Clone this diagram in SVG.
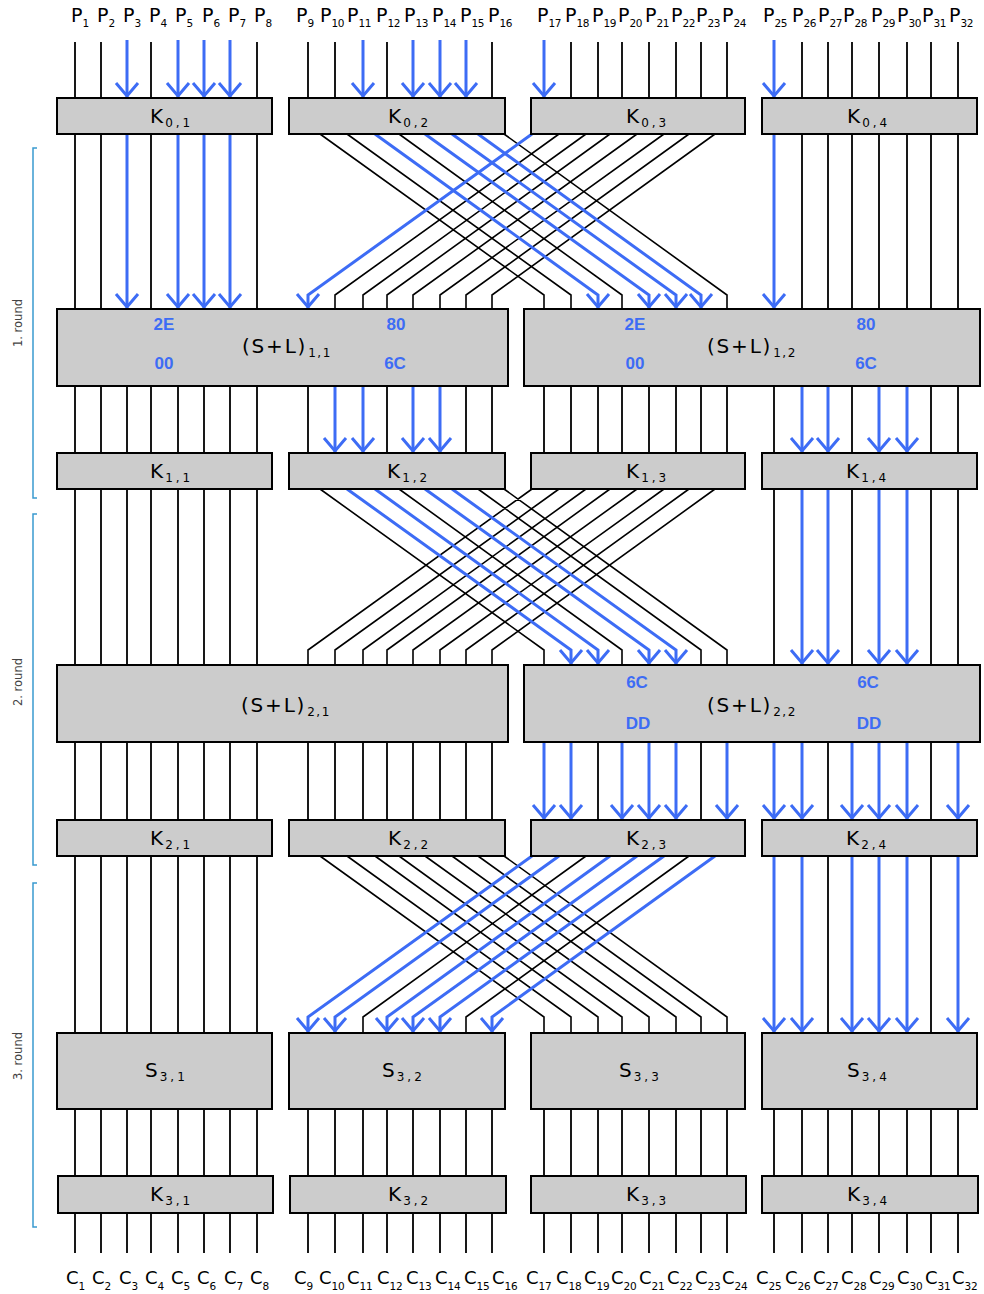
<svg xmlns="http://www.w3.org/2000/svg" width="984" height="1294" viewBox="0 0 984 1294">
<style>
.w{stroke:#000;stroke-width:1.8;fill:none}
.d{stroke:#000;stroke-width:1.6;fill:none}
.b{stroke:#3d6cf5;stroke-width:3;fill:none;marker-end:url(#ah)}
.box{fill:#cccccc;stroke:#000;stroke-width:2}
.t{font-family:'DejaVu Sans',sans-serif;font-size:20px;fill:#000}
.p{font-family:'DejaVu Sans',sans-serif;font-size:19px;fill:#000}
.s{font-size:10.5px;letter-spacing:-0.3px}
.ks{font-size:12px;letter-spacing:3px}
.sl{letter-spacing:1.8px}
.sls{font-size:12px;letter-spacing:1.5px}
.hex{font-family:'Liberation Sans',Arial,sans-serif;font-weight:bold;font-size:17px;fill:#3d6cf5;text-anchor:middle}
.c{font-family:'DejaVu Sans',sans-serif;font-size:18px;fill:#000}
.br{stroke:#3a9ad0;stroke-width:1.5;fill:none}
.rl{font-family:'DejaVu Sans',sans-serif;font-size:11.5px;fill:#444;text-anchor:middle}
</style>
<defs>
<marker id="ah" markerUnits="userSpaceOnUse" markerWidth="30" markerHeight="30" viewBox="-15 -15 30 30" refX="2" refY="0" orient="auto" overflow="visible">
<path d="M-13 -11L0 0L-13 11" fill="none" stroke="#3d6cf5" stroke-width="3"/>
</marker>
</defs>
<rect width="984" height="1294" fill="#fff"/>
<g id="connectors">
<path class="w" d="M75 42V98M101 42V98M151 42V98M257 42V98M308 42V98M335 42V98M387 42V98M492 42V98M571 42V98M598 42V98M622 42V98M649 42V98M676 42V98M701 42V98M727 42V98M802 42V98M828 42V98M852 42V98M879 42V98M907 42V98M931 42V98M958 42V98"/>
<path class="b" d="M127 40V98"/><path class="b" d="M178 40V98"/><path class="b" d="M204 40V98"/><path class="b" d="M230 40V98"/>
<path class="b" d="M363 40V98"/><path class="b" d="M413 40V98"/><path class="b" d="M440 40V98"/><path class="b" d="M466 40V98"/>
<path class="b" d="M544 40V98"/><path class="b" d="M774 40V98"/>
<path class="w" d="M75 134V309M101 134V309M151 134V309M257 134V309M802 134V309M828 134V309M852 134V309M879 134V309M907 134V309M931 134V309M958 134V309"/>
<path class="d" d="M320 134L544 295V309M347 134L571 295V309M399 134L622 295V309M504 134L727 295V309M559 134L335 295V309M586 134L363 295V309M610 134L387 295V309M637 134L413 295V309M664 134L440 295V309M689 134L466 295V309M715 134L492 295V309"/>
<path class="b" d="M127 134V309"/><path class="b" d="M178 134V309"/><path class="b" d="M204 134V309"/><path class="b" d="M230 134V309"/><path class="b" d="M774 134V309"/>
<path class="b" d="M375 134L598 295V309"/><path class="b" d="M425 134L649 295V309"/><path class="b" d="M452 134L676 295V309"/><path class="b" d="M478 134L701 295V309"/>
<path class="b" d="M532 134L308 295V309"/>
<path class="w" d="M75 386V453M101 386V453M127 386V453M151 386V453M178 386V453M204 386V453M230 386V453M257 386V453M308 386V453M387 386V453M466 386V453M492 386V453M544 386V453M571 386V453M598 386V453M622 386V453M649 386V453M676 386V453M701 386V453M727 386V453M774 386V453M852 386V453M931 386V453M958 386V453"/>
<path class="b" d="M335 386V453"/><path class="b" d="M363 386V453"/><path class="b" d="M413 386V453"/><path class="b" d="M440 386V453"/>
<path class="b" d="M802 386V453"/><path class="b" d="M828 386V453"/><path class="b" d="M879 386V453"/><path class="b" d="M907 386V453"/>
<path class="w" d="M75 489V665M101 489V665M127 489V665M151 489V665M178 489V665M204 489V665M230 489V665M257 489V665M774 489V665M852 489V665M931 489V665M958 489V665"/>
<path class="d" d="M320 489L544 650V665M399 489L622 650V665M478 489L701 650V665M504 489L727 650V665M532 489L308 650V665M559 489L335 650V665M586 489L363 650V665M610 489L387 650V665M637 489L413 650V665M664 489L440 650V665M689 489L466 650V665M715 489L492 650V665"/>
<path class="b" d="M802 489V665"/><path class="b" d="M828 489V665"/><path class="b" d="M879 489V665"/><path class="b" d="M907 489V665"/>
<path class="b" d="M347 489L571 650V665"/><path class="b" d="M375 489L598 650V665"/><path class="b" d="M425 489L649 650V665"/><path class="b" d="M452 489L676 650V665"/>
<path class="w" d="M75 742V820M101 742V820M127 742V820M151 742V820M178 742V820M204 742V820M230 742V820M257 742V820M308 742V820M335 742V820M363 742V820M387 742V820M413 742V820M440 742V820M466 742V820M492 742V820M598 742V820M701 742V820M828 742V820M931 742V820"/>
<path class="b" d="M544 742V820"/><path class="b" d="M571 742V820"/><path class="b" d="M622 742V820"/><path class="b" d="M649 742V820"/><path class="b" d="M676 742V820"/><path class="b" d="M727 742V820"/>
<path class="b" d="M774 742V820"/><path class="b" d="M802 742V820"/><path class="b" d="M852 742V820"/><path class="b" d="M879 742V820"/><path class="b" d="M907 742V820"/><path class="b" d="M958 742V820"/>
<path class="w" d="M75 856V1033M101 856V1033M127 856V1033M151 856V1033M178 856V1033M204 856V1033M230 856V1033M257 856V1033M828 856V1033M931 856V1033"/>
<path class="d" d="M320 856L544 1017V1033M347 856L571 1017V1033M375 856L598 1017V1033M399 856L622 1017V1033M425 856L649 1017V1033M452 856L676 1017V1033M478 856L701 1017V1033M504 856L727 1017V1033M586 856L363 1017V1033M689 856L466 1017V1033"/>
<path class="b" d="M774 856V1033"/><path class="b" d="M802 856V1033"/><path class="b" d="M852 856V1033"/><path class="b" d="M879 856V1033"/><path class="b" d="M907 856V1033"/><path class="b" d="M958 856V1033"/>
<path class="b" d="M532 856L308 1017V1033"/><path class="b" d="M559 856L335 1017V1033"/><path class="b" d="M610 856L387 1017V1033"/><path class="b" d="M637 856L413 1017V1033"/><path class="b" d="M664 856L440 1017V1033"/><path class="b" d="M715 856L492 1017V1033"/>
<path class="w" d="M75 1109V1176M101 1109V1176M127 1109V1176M151 1109V1176M178 1109V1176M204 1109V1176M230 1109V1176M257 1109V1176M308 1109V1176M335 1109V1176M363 1109V1176M387 1109V1176M413 1109V1176M440 1109V1176M466 1109V1176M492 1109V1176M544 1109V1176M571 1109V1176M598 1109V1176M622 1109V1176M649 1109V1176M676 1109V1176M701 1109V1176M727 1109V1176M774 1109V1176M802 1109V1176M828 1109V1176M852 1109V1176M879 1109V1176M907 1109V1176M931 1109V1176M958 1109V1176"/>
<path class="w" d="M75 1213V1253M101 1213V1253M127 1213V1253M151 1213V1253M178 1213V1253M204 1213V1253M230 1213V1253M257 1213V1253M308 1213V1253M335 1213V1253M363 1213V1253M387 1213V1253M413 1213V1253M440 1213V1253M466 1213V1253M492 1213V1253M544 1213V1253M571 1213V1253M598 1213V1253M622 1213V1253M649 1213V1253M676 1213V1253M701 1213V1253M727 1213V1253M774 1213V1253M802 1213V1253M828 1213V1253M852 1213V1253M879 1213V1253M907 1213V1253M931 1213V1253M958 1213V1253"/>
</g>
<g id="K0_1"><rect class="box" x="57" y="98" width="215" height="36"/><text class="t" x="150" y="123">K<tspan class="ks" dx="2" dy="4">0,1</tspan></text></g>
<g id="K0_2"><rect class="box" x="289" y="98" width="216" height="36"/><text class="t" x="388" y="123">K<tspan class="ks" dx="2" dy="4">0,2</tspan></text></g>
<g id="K0_3"><rect class="box" x="531" y="98" width="214" height="36"/><text class="t" x="626" y="123">K<tspan class="ks" dx="2" dy="4">0,3</tspan></text></g>
<g id="K0_4"><rect class="box" x="762" y="98" width="215" height="36"/><text class="t" x="847" y="123">K<tspan class="ks" dx="2" dy="4">0,4</tspan></text></g>
<g id="SL1_1"><rect class="box" x="57" y="309" width="451" height="77"/><text class="t sl" x="242" y="353">(S+L)<tspan class="sls" dx="1" dy="3.5">1,1</tspan></text>
<text class="hex" x="164" y="330">2E</text><text class="hex" x="164" y="369">00</text><text class="hex" x="396" y="330">80</text><text class="hex" x="395" y="369">6C</text></g>
<g id="SL1_2"><rect class="box" x="524" y="309" width="456" height="77"/><text class="t sl" x="707" y="353">(S+L)<tspan class="sls" dx="1" dy="3.5">1,2</tspan></text>
<text class="hex" x="635" y="330">2E</text><text class="hex" x="635" y="369">00</text><text class="hex" x="866" y="330">80</text><text class="hex" x="866" y="369">6C</text></g>
<g id="K1_1"><rect class="box" x="57" y="453" width="215" height="36"/><text class="t" x="150" y="478">K<tspan class="ks" dx="2" dy="4">1,1</tspan></text></g>
<g id="K1_2"><rect class="box" x="289" y="453" width="216" height="36"/><text class="t" x="387" y="478">K<tspan class="ks" dx="2" dy="4">1,2</tspan></text></g>
<g id="K1_3"><rect class="box" x="531" y="453" width="214" height="36"/><text class="t" x="626" y="478">K<tspan class="ks" dx="2" dy="4">1,3</tspan></text></g>
<g id="K1_4"><rect class="box" x="762" y="453" width="215" height="36"/><text class="t" x="846" y="478">K<tspan class="ks" dx="2" dy="4">1,4</tspan></text></g>
<g id="SL2_1"><rect class="box" x="57" y="665" width="451" height="77"/><text class="t sl" x="241" y="712">(S+L)<tspan class="sls" dx="1" dy="3.5">2,1</tspan></text></g>
<g id="SL2_2"><rect class="box" x="524" y="665" width="456" height="77"/><text class="t sl" x="707" y="712">(S+L)<tspan class="sls" dx="1" dy="3.5">2,2</tspan></text>
<text class="hex" x="637" y="688">6C</text><text class="hex" x="638" y="729">DD</text><text class="hex" x="868" y="688">6C</text><text class="hex" x="869" y="729">DD</text></g>
<g id="K2_1"><rect class="box" x="57" y="820" width="215" height="36"/><text class="t" x="150" y="845">K<tspan class="ks" dx="2" dy="4">2,1</tspan></text></g>
<g id="K2_2"><rect class="box" x="289" y="820" width="216" height="36"/><text class="t" x="388" y="845">K<tspan class="ks" dx="2" dy="4">2,2</tspan></text></g>
<g id="K2_3"><rect class="box" x="531" y="820" width="214" height="36"/><text class="t" x="626" y="845">K<tspan class="ks" dx="2" dy="4">2,3</tspan></text></g>
<g id="K2_4"><rect class="box" x="762" y="820" width="215" height="36"/><text class="t" x="846" y="845">K<tspan class="ks" dx="2" dy="4">2,4</tspan></text></g>
<g id="S3_1"><rect class="box" x="57" y="1033" width="215" height="76"/><text class="t" x="145" y="1077">S<tspan class="ks" dx="2" dy="4">3,1</tspan></text></g>
<g id="S3_2"><rect class="box" x="289" y="1033" width="216" height="76"/><text class="t" x="382" y="1077">S<tspan class="ks" dx="2" dy="4">3,2</tspan></text></g>
<g id="S3_3"><rect class="box" x="531" y="1033" width="214" height="76"/><text class="t" x="619" y="1077">S<tspan class="ks" dx="2" dy="4">3,3</tspan></text></g>
<g id="S3_4"><rect class="box" x="762" y="1033" width="215" height="76"/><text class="t" x="847" y="1077">S<tspan class="ks" dx="2" dy="4">3,4</tspan></text></g>
<g id="K3_1"><rect class="box" x="58" y="1176" width="215" height="37"/><text class="t" x="150" y="1201">K<tspan class="ks" dx="2" dy="4">3,1</tspan></text></g>
<g id="K3_2"><rect class="box" x="290" y="1176" width="216" height="37"/><text class="t" x="388" y="1201">K<tspan class="ks" dx="2" dy="4">3,2</tspan></text></g>
<g id="K3_3"><rect class="box" x="531" y="1176" width="215" height="37"/><text class="t" x="626" y="1201">K<tspan class="ks" dx="2" dy="4">3,3</tspan></text></g>
<g id="K3_4"><rect class="box" x="762" y="1176" width="216" height="37"/><text class="t" x="847" y="1201">K<tspan class="ks" dx="2" dy="4">3,4</tspan></text></g>
<g id="inputs" class="p">
<text x="71" y="22">P<tspan class="s" dy="5">1</tspan></text>
<text x="97" y="22">P<tspan class="s" dy="5">2</tspan></text>
<text x="123" y="22">P<tspan class="s" dy="5">3</tspan></text>
<text x="149" y="22">P<tspan class="s" dy="5">4</tspan></text>
<text x="175" y="22">P<tspan class="s" dy="5">5</tspan></text>
<text x="202" y="22">P<tspan class="s" dy="5">6</tspan></text>
<text x="228" y="22">P<tspan class="s" dy="5">7</tspan></text>
<text x="254" y="22">P<tspan class="s" dy="5">8</tspan></text>
<text x="296" y="22">P<tspan class="s" dy="5">9</tspan></text>
<text x="320" y="22">P<tspan class="s" dy="5">10</tspan></text>
<text x="347" y="22">P<tspan class="s" dy="5">11</tspan></text>
<text x="376" y="22">P<tspan class="s" dy="5">12</tspan></text>
<text x="404" y="22">P<tspan class="s" dy="5">13</tspan></text>
<text x="432" y="22">P<tspan class="s" dy="5">14</tspan></text>
<text x="460" y="22">P<tspan class="s" dy="5">15</tspan></text>
<text x="488" y="22">P<tspan class="s" dy="5">16</tspan></text>
<text x="537" y="22">P<tspan class="s" dy="5">17</tspan></text>
<text x="565" y="22">P<tspan class="s" dy="5">18</tspan></text>
<text x="592" y="22">P<tspan class="s" dy="5">19</tspan></text>
<text x="618" y="22">P<tspan class="s" dy="5">20</tspan></text>
<text x="645" y="22">P<tspan class="s" dy="5">21</tspan></text>
<text x="671" y="22">P<tspan class="s" dy="5">22</tspan></text>
<text x="696" y="22">P<tspan class="s" dy="5">23</tspan></text>
<text x="722" y="22">P<tspan class="s" dy="5">24</tspan></text>
<text x="763" y="22">P<tspan class="s" dy="5">25</tspan></text>
<text x="792" y="22">P<tspan class="s" dy="5">26</tspan></text>
<text x="818" y="22">P<tspan class="s" dy="5">27</tspan></text>
<text x="843" y="22">P<tspan class="s" dy="5">28</tspan></text>
<text x="871" y="22">P<tspan class="s" dy="5">29</tspan></text>
<text x="897" y="22">P<tspan class="s" dy="5">30</tspan></text>
<text x="922" y="22">P<tspan class="s" dy="5">31</tspan></text>
<text x="949" y="22">P<tspan class="s" dy="5">32</tspan></text>
</g>
<g id="outputs" class="c">
<text x="66" y="1284">C<tspan class="s" dy="6">1</tspan></text>
<text x="92" y="1284">C<tspan class="s" dy="6">2</tspan></text>
<text x="119" y="1284">C<tspan class="s" dy="6">3</tspan></text>
<text x="145" y="1284">C<tspan class="s" dy="6">4</tspan></text>
<text x="171" y="1284">C<tspan class="s" dy="6">5</tspan></text>
<text x="197" y="1284">C<tspan class="s" dy="6">6</tspan></text>
<text x="224" y="1284">C<tspan class="s" dy="6">7</tspan></text>
<text x="250" y="1284">C<tspan class="s" dy="6">8</tspan></text>
<text x="294" y="1284">C<tspan class="s" dy="6">9</tspan></text>
<text x="319" y="1284">C<tspan class="s" dy="6">10</tspan></text>
<text x="347" y="1284">C<tspan class="s" dy="6">11</tspan></text>
<text x="377" y="1284">C<tspan class="s" dy="6">12</tspan></text>
<text x="406" y="1284">C<tspan class="s" dy="6">13</tspan></text>
<text x="435" y="1284">C<tspan class="s" dy="6">14</tspan></text>
<text x="464" y="1284">C<tspan class="s" dy="6">15</tspan></text>
<text x="492" y="1284">C<tspan class="s" dy="6">16</tspan></text>
<text x="526" y="1284">C<tspan class="s" dy="6">17</tspan></text>
<text x="556" y="1284">C<tspan class="s" dy="6">18</tspan></text>
<text x="584" y="1284">C<tspan class="s" dy="6">19</tspan></text>
<text x="611" y="1284">C<tspan class="s" dy="6">20</tspan></text>
<text x="639" y="1284">C<tspan class="s" dy="6">21</tspan></text>
<text x="667" y="1284">C<tspan class="s" dy="6">22</tspan></text>
<text x="695" y="1284">C<tspan class="s" dy="6">23</tspan></text>
<text x="722" y="1284">C<tspan class="s" dy="6">24</tspan></text>
<text x="756" y="1284">C<tspan class="s" dy="6">25</tspan></text>
<text x="785" y="1284">C<tspan class="s" dy="6">26</tspan></text>
<text x="813" y="1284">C<tspan class="s" dy="6">27</tspan></text>
<text x="841" y="1284">C<tspan class="s" dy="6">28</tspan></text>
<text x="869" y="1284">C<tspan class="s" dy="6">29</tspan></text>
<text x="897" y="1284">C<tspan class="s" dy="6">30</tspan></text>
<text x="925" y="1284">C<tspan class="s" dy="6">31</tspan></text>
<text x="952" y="1284">C<tspan class="s" dy="6">32</tspan></text>
</g>
<g id="rounds">
<path class="br" d="M37 148H33V498H37"/>
<path class="br" d="M37 514H33V865H37"/>
<path class="br" d="M37 883H33V1227H37"/>
<text class="rl" x="22" y="323" transform="rotate(-90 22 323)">1. round</text>
<text class="rl" x="22" y="682" transform="rotate(-90 22 682)">2. round</text>
<text class="rl" x="22" y="1056" transform="rotate(-90 22 1056)">3. round</text>
</g>
</svg>
